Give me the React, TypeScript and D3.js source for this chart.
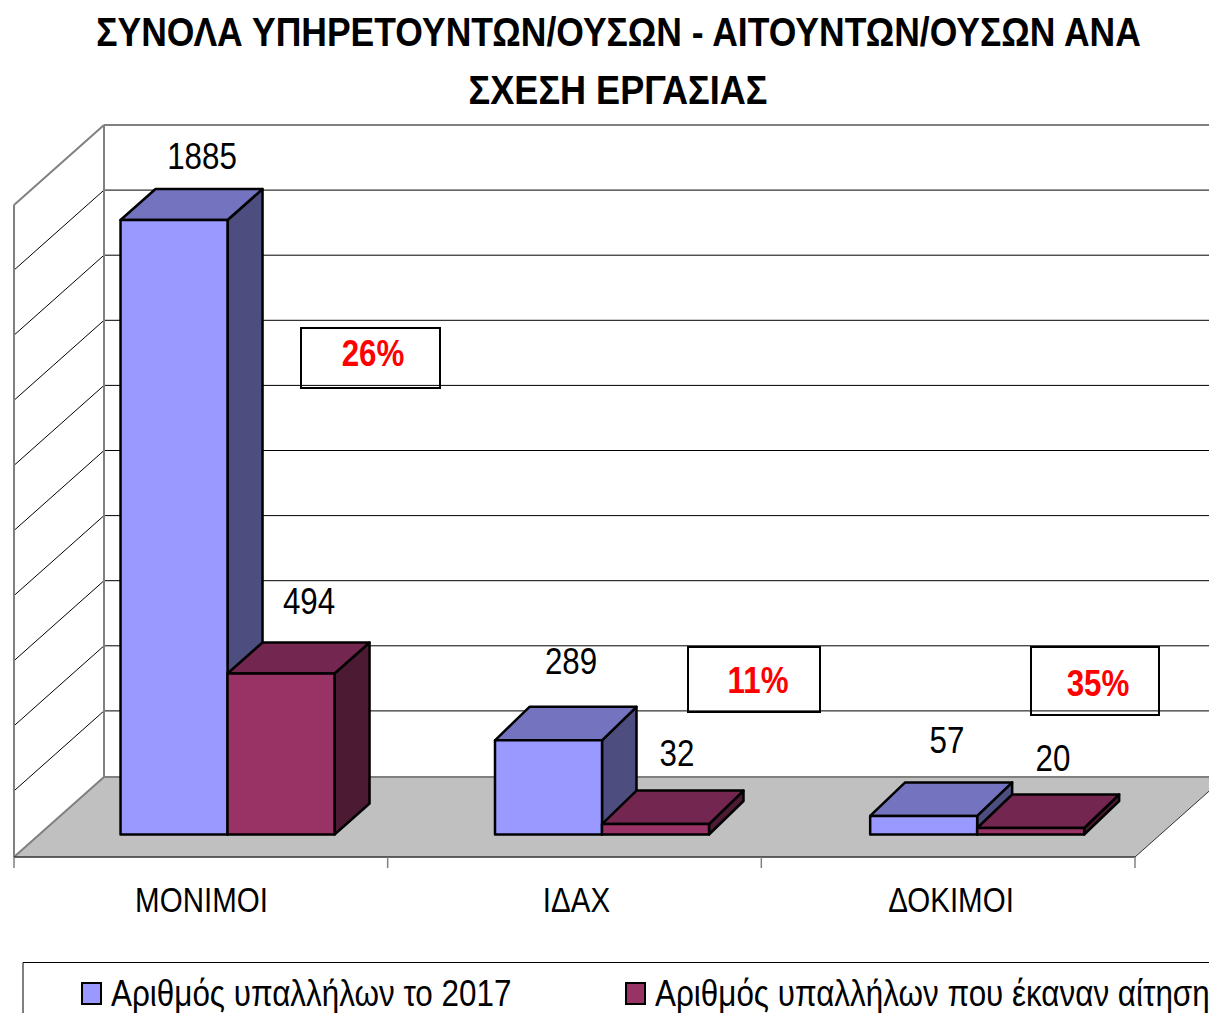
import React from "react";
import * as d3 from "d3";

const categories = ["ΜΟΝΙΜΟΙ", "ΙΔΑΧ", "ΔΟΚΙΜΟΙ"];
const series2017 = [1885, 289, 57];
const seriesApplied = [494, 32, 20];
const percentages = ["26%", "11%", "35%"];
const seriesNames = ["Αριθμός υπαλλήλων το 2017", "Αριθμός υπαλλήλων που έκαναν αίτηση"];
const titleLines = ["ΣΥΝΟΛΑ ΥΠΗΡΕΤΟΥΝΤΩΝ/ΟΥΣΩΝ - ΑΙΤΟΥΝΤΩΝ/ΟΥΣΩΝ ΑΝΑ", "ΣΧΕΣΗ ΕΡΓΑΣΙΑΣ"];
const yTicks = d3.range(0, 2001, 200);

// layout
const W = 1209, H = 1013;
const FONT = "'Liberation Sans', Arial, sans-serif";
const wallDX = 90, wallDY = 80; // floor depth projection
const barFrontDX = 26; // bar front plane relative to floor front
const barBase = 834.5;
const groupNudge = [0.7, 1.5, 3];
const barDepthX = [35, 34.5, 35];
const barDepthY = [31, 33.5, 33.5];
const floorFrontY = 857;
const x = d3.scaleBand<string>().domain(categories).range([14, 1135]);
const yScale = d3.scaleLinear().domain([0, 2000]).range([0, 652]);
const gridY = d3.scaleLinear().domain([0, 2000]).range([776, 125]);
const barW = 107;
const blue = { front: "#9999ff", top: "#7373bf", side: "#4d4d80" };
const maroon = { front: "#993366", top: "#732650", side: "#4d1a33" };

const poly = (pts: [number, number][]) => pts.map((p) => p.join(",")).join(" ");
const lineGen = d3.line();

function Txt({ x, y, s = 0.87, size = 36, weight = 400, fill = "#000", children, anchor = "middle" }: any) {
  return (
    <text
      transform={`translate(${x},${y}) scale(${s},1)`}
      textAnchor={anchor}
      fontFamily={FONT}
      fontSize={size}
      fontWeight={weight}
      fill={fill}
    >
      {children}
    </text>
  );
}

function Bar({ x0, value, c, dx, dy }: { x0: number; value: number; c: typeof blue; dx: number; dy: number }) {
  const h = yScale(value);
  const t = barBase - h;
  const x1 = x0 + barW;
  return (
    <g stroke="#000" strokeWidth={2.5} strokeLinejoin="round">
      <polygon points={poly([[x1, t], [x1 + dx, t - dy], [x1 + dx, barBase - dy], [x1, barBase]])} fill={c.side} />
      <polygon points={poly([[x0, t], [x0 + dx, t - dy], [x1 + dx, t - dy], [x1, t]])} fill={c.top} />
      <rect x={x0} y={t} width={barW} height={h} fill={c.front} />
    </g>
  );
}

const labelPos = [
  [202, 169, 309, 614],
  [571, 674, 677, 766],
  [947, 753, 1053, 771],
];
const boxes = [
  [301, 328, 139, 60, 373, 366],
  [688, 647, 132, 65, 758, 693],
  [1031, 647, 128, 68, 1098, 696],
];
const catCenters = [201.5, 576.5, 951];
const catBaseline = 912;

export default function App() {
  const backY = floorFrontY - wallDY;
  const backX = 14 + wallDX;
  const step = x.bandwidth();
  return (
    <svg width={W} height={H} style={{ position: "absolute", left: 0, top: 0, display: "block", background: "#fff" }}>
      {/* floor */}
      <polygon
        points={poly([[14, floorFrontY], [backX, backY], [1135 + wallDX, backY], [1135, floorFrontY]])}
        fill="#c0c0c0"
      />
      {/* gridlines */}
      {yTicks.slice(1).map((t) => {
        const yy = gridY(t);
        const isTop = t === 2000;
        return (
          <g key={t} fill="none" stroke={isTop ? "#808080" : "#000"} strokeWidth={isTop ? 2 : 1}>
            <path d={lineGen([[14, yy + wallDY], [backX, yy]]) as string} />
            <path d={lineGen([[backX, yy], [W + 30, yy]]) as string} />
          </g>
        );
      })}
      {/* walls */}
      <g fill="none" stroke="#808080" strokeWidth={2}>
        <path d={lineGen([[14, floorFrontY], [14, gridY(2000) + wallDY]]) as string} />
        <path d={lineGen([[backX, backY], [backX, gridY(2000)]]) as string} />
        <path d={lineGen([[14, floorFrontY], [backX, backY], [W + 30, backY]]) as string} />
      </g>
      <path d={lineGen([[1135, floorFrontY], [1135 + wallDX, backY]]) as string} fill="none" stroke="#333" strokeWidth={1} />
      {/* x axis */}
      <path d={lineGen([[14, floorFrontY], [1135, floorFrontY]]) as string} fill="none" stroke="#333" strokeWidth={1.5} />
      <g stroke="#808080" strokeWidth={1.5}>
        {[...categories.map((c) => x(c) as number), 1135].map((v) => (
          <line key={v} x1={v} x2={v} y1={floorFrontY} y2={floorFrontY + 11} />
        ))}
      </g>
      {/* bars */}
      {categories.map((c, i) => {
        const x0 = (x(c) as number) + barFrontDX + (step - 2 * barW) / 2 + groupNudge[i];
        return (
          <g key={c}>
            <Bar x0={x0} value={series2017[i]} c={blue} dx={barDepthX[i]} dy={barDepthY[i]} />
            <Bar x0={x0 + barW} value={seriesApplied[i]} c={maroon} dx={barDepthX[i]} dy={barDepthY[i]} />
          </g>
        );
      })}
      {/* value labels */}
      {categories.map((c, i) => {
        const [x1, y1, x2, y2] = labelPos[i];
        return (
          <g key={c}>
            <Txt x={x1} y={y1}>{series2017[i]}</Txt>
            <Txt x={x2} y={y2}>{seriesApplied[i]}</Txt>
          </g>
        );
      })}
      {/* percentage boxes */}
      {percentages.map((p, i) => {
        const [bx, by, bw, bh, tx, ty] = boxes[i];
        return (
          <g key={p}>
            <rect x={bx} y={by} width={bw} height={bh} fill="none" stroke="#000" strokeWidth={2} />
            <Txt x={tx} y={ty} weight={700} fill="#ff0000">{p}</Txt>
          </g>
        );
      })}
      {/* category labels */}
      {categories.map((c, i) => (
        <Txt key={c} x={catCenters[i]} y={catBaseline} s={0.82}>{c}</Txt>
      ))}
      {/* title */}
      <Txt x={618.5} y={46} size={41} s={0.866} weight={700}>{titleLines[0]}</Txt>
      <Txt x={618} y={104} size={41} s={0.88} weight={700}>{titleLines[1]}</Txt>
      {/* legend */}
      <path d={lineGen([[23, H + 5], [23, 962.5], [W + 5, 962.5]]) as string} fill="none" stroke="#000" strokeWidth={1} />
      <rect x={82} y={983} width={19} height={21} fill={blue.front} stroke="#000" strokeWidth={2} />
      <rect x={626} y={983} width={19} height={21} fill={maroon.front} stroke="#000" strokeWidth={2} />
      <Txt x={111} y={1006} anchor="start" s={0.873}>{seriesNames[0]}</Txt>
      <Txt x={655} y={1006} anchor="start" s={0.873}>{seriesNames[1]}</Txt>
    </svg>
  );
}
